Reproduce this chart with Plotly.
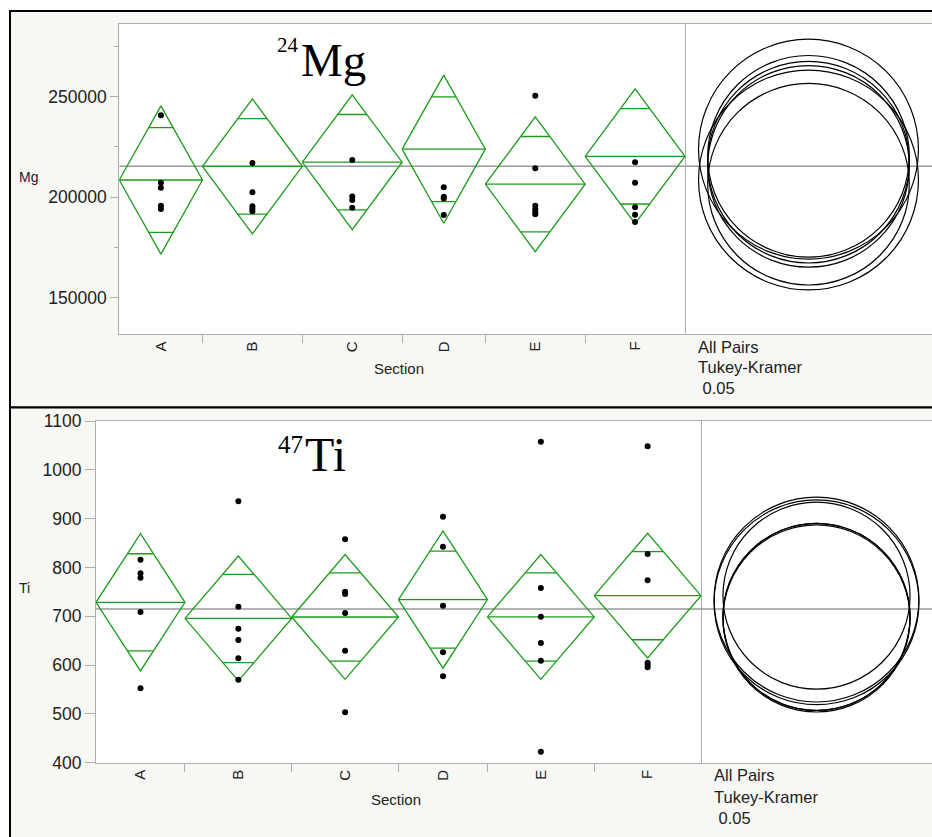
import plotly.graph_objects as go
import math

# ---------------- data ----------------
groups = ["A", "B", "C", "D", "E", "F"]
group_n = [5, 6, 6, 5, 6, 6]

mg_points = [
    [240750, 207200, 204700, 195770, 194100],
    [217060, 202440, 195500, 194300, 193000],
    [218500, 200300, 198600, 194800],
    [204930, 200250, 199300, 191190],
    [250500, 214400, 195800, 194000, 192500, 191500],
    [217360, 207210, 194980, 191290, 187660],
]
mg_means = [208555, 215345, 217415, 223900, 206470, 220340]
mg_ci_half = [36850, 33550, 33550, 36850, 33550, 33550]
mg_circle_r = [54700, 50150, 50150, 54700, 50150, 50150]
mg_grand_mean = 215370
mg_range = [131800, 286170]
mg_ticks = [150000, 200000, 250000]

ti_points = [
    [815.9, 788.0, 779.0, 708.7, 552.4],
    [935.5, 719.6, 674.5, 651.4, 613.8, 570.0],
    [857.7, 750.4, 745.6, 706.7, 629.5, 503.2],
    [904.0, 842.5, 721.7, 626.2, 577.0],
    [1057.7, 757.9, 699.1, 645.2, 609.0, 422.5],
    [1048.2, 827.6, 773.7, 604.9, 600.0, 595.4],
]
ti_means = [728.6, 695.5, 698.5, 734.2, 698.6, 742.2]
ti_ci_half = [140.6, 127.8, 127.8, 140.6, 127.8, 127.8]
ti_circle_r = [209.8, 191.6, 191.6, 209.8, 191.6, 191.6]
ti_grand_mean = 714.9
ti_range = [400, 1100]
ti_ticks = [400, 500, 600, 700, 800, 900, 1000, 1100]

x_title = "Section"
note_lines = ["All Pairs", "Tukey-Kramer", " 0.05"]

# ---------------- layout geometry (pixels) ----------------
W, H = 932, 837
GREEN = "#1c9c1c"
AXIS = "#adadad"
BG = "#f7f7f3"
FONT = "Liberation Sans"


def px(x):
    return x / W


def py(y):
    return 1 - y / H


panels = [
    dict(name="Mg", pts=mg_points, means=mg_means, half=mg_ci_half, circ=mg_circle_r,
         gm=mg_grand_mean, yr=mg_range, ticks=mg_ticks,
         left=119.3, div=685.0, top=24.0, bot=334.3, ticklen=8, minor=25000,
         frame=(11.0, 407.5), ylab=(28, 177.3), sec=(399.0, 368.0),
         notes=(696.0, 346.7, 20.6), sup="24", main="Mg",
         sup_pos=(300.5, 45.0, 21), main_pos=(299.0, 60.0, 47)),
    dict(name="Ti", pts=ti_points, means=ti_means, half=ti_ci_half, circ=ti_circle_r,
         gm=ti_grand_mean, yr=ti_range, ticks=ti_ticks,
         left=96.0, div=701.0, top=421.0, bot=762.7, ticklen=10, minor=None,
         frame=(407.5, 850.0), ylab=(24.5, 588.3), sec=(396.0, 799.3),
         notes=(711.5, 775.0, 21.6), sup="47", main="Ti",
         sup_pos=(304.5, 444.0, 25), main_pos=(303.0, 454.0, 48)),
]

total_n = sum(group_n)
bounds = [0]
for n in group_n:
    bounds.append(bounds[-1] + n)
centers = [(bounds[i] + bounds[i + 1]) / 2 for i in range(len(groups))]

fig = go.Figure()
shapes = []
annotations = []
layout_axes = {}

for k, p in enumerate(panels):
    xa = "x" if k == 0 else "x3"
    xb = "x2" if k == 0 else "x4"
    ya = "y" if k == 0 else "y2"
    xa_key = "xaxis" if k == 0 else "xaxis3"
    xb_key = "xaxis2" if k == 0 else "xaxis4"
    ya_key = "yaxis" if k == 0 else "yaxis2"

    # frame + white plot area
    shapes.append(dict(type="rect", xref="paper", yref="paper", layer="below",
                       x0=px(10), x1=px(950), y0=py(p["frame"][0]), y1=py(p["frame"][1]),
                       fillcolor=BG, line=dict(color="black", width=2)))
    shapes.append(dict(type="rect", xref="paper", yref="paper", layer="below",
                       x0=px(p["left"]), x1=px(W + 5), y0=py(p["top"]), y1=py(p["bot"]),
                       fillcolor="white", line=dict(width=0)))

    # scale for circle panel so that circles are round
    ppu = (p["bot"] - p["top"]) / (p["yr"][1] - p["yr"][0])
    half_w = (W - p["div"]) / 2 / ppu

    # grand mean line
    fig.add_trace(go.Scatter(x=[0, total_n], y=[p["gm"], p["gm"]], xaxis=xa, yaxis=ya,
                             mode="lines", line=dict(color="#999999", width=1.5),
                             hoverinfo="skip"))
    fig.add_trace(go.Scatter(x=[-half_w, half_w], y=[p["gm"], p["gm"]], xaxis=xb, yaxis=ya,
                             mode="lines", line=dict(color="#999999", width=1.5),
                             hoverinfo="skip"))

    # means diamonds
    dx, dy = [], []
    for i in range(len(groups)):
        l, r, c = bounds[i], bounds[i + 1], centers[i]
        m, h = p["means"][i], p["half"][i]
        dx += [l, c, r, c, l, None]
        dy += [m, m + h, m, m - h, m, None]
        dx += [l, r, None]
        dy += [m, m, None]
        s = 1 / math.sqrt(2)
        hw = (r - l) / 2 * (1 - s)
        for sign in (1, -1):
            dx += [c - hw, c + hw, None]
            dy += [m + sign * h * s, m + sign * h * s, None]
    fig.add_trace(go.Scatter(x=dx, y=dy, xaxis=xa, yaxis=ya, mode="lines",
                             line=dict(color=GREEN, width=1.3), hoverinfo="skip"))

    # points
    xs, ys = [], []
    for i, vals in enumerate(p["pts"]):
        xs += [centers[i]] * len(vals)
        ys += vals
    fig.add_trace(go.Scatter(x=xs, y=ys, xaxis=xa, yaxis=ya, mode="markers",
                             marker=dict(color="black", size=6), hoverinfo="skip"))

    # comparison circles
    for i in range(len(groups)):
        m, r = p["means"][i], p["circ"][i]
        shapes.append(dict(type="circle", xref=xb, yref=ya, x0=-r, x1=r, y0=m - r, y1=m + r,
                           line=dict(color="black", width=1.2), layer="above"))

    # axes
    yd = [py(p["bot"]), py(p["top"])]
    layout_axes[xa_key] = dict(
        domain=[px(p["left"]), px(p["div"])], range=[0, total_n], anchor=ya,
        tickmode="array", tickvals=centers, ticktext=groups, tickangle=-90,
        ticks="", showline=True, mirror=True, linecolor=AXIS, linewidth=1.2,
        showgrid=False, zeroline=False, fixedrange=True, automargin=False,
        tickfont=dict(family=FONT, size=15, color="#222"),
        minor=dict(tickmode="array", tickvals=bounds[1:-1], ticks="outside",
                   ticklen=8, tickcolor=AXIS, tickwidth=1.2, showgrid=False),
    )
    layout_axes[xb_key] = dict(
        domain=[px(p["div"]), 1.0], range=[-half_w, half_w], anchor=ya,
        showticklabels=False, ticks="", showline=True, mirror=True, linecolor=AXIS,
        linewidth=1.2, showgrid=False, zeroline=False, fixedrange=True, automargin=False,
    )
    yax = dict(
        domain=yd, range=p["yr"], anchor=xa,
        tickmode="array", tickvals=p["ticks"], ticktext=[str(t) for t in p["ticks"]],
        ticks="outside", ticklen=p["ticklen"], tickcolor=AXIS, tickwidth=1.2,
        showline=True, mirror=True, linecolor=AXIS, linewidth=1.2,
        showgrid=False, zeroline=False, fixedrange=True, automargin=False,
        tickfont=dict(family=FONT, size=17.5, color="#222"),
    )
    if p["minor"]:
        yax["minor"] = dict(dtick=p["minor"], ticks="outside", ticklen=4,
                            tickcolor=AXIS, tickwidth=1.2, showgrid=False)
    layout_axes[ya_key] = yax

    # texts
    annotations.append(dict(text=p["name"], x=px(p["ylab"][0]), y=py(p["ylab"][1]),
                            xref="paper", yref="paper", showarrow=False,
                            xanchor="center", yanchor="middle",
                            font=dict(family=FONT, size=14, color="#222")))
    annotations.append(dict(text=x_title, x=px(p["sec"][0]), y=py(p["sec"][1]),
                            xref="paper", yref="paper", showarrow=False,
                            xanchor="center", yanchor="middle",
                            font=dict(family=FONT, size=15, color="#222")))
    nx, ny, step = p["notes"]
    for j, line in enumerate(note_lines):
        annotations.append(dict(text=line, x=px(nx), y=py(ny + j * step), xref="paper",
                                yref="paper", xanchor="left", yanchor="middle",
                                showarrow=False,
                                font=dict(family=FONT, size=16.5, color="#222")))
    sx, sy, ss = p["sup_pos"]
    annotations.append(dict(text=p["sup"], x=px(sx), y=py(sy), xref="paper", yref="paper",
                            xanchor="right", yanchor="middle", showarrow=False,
                            font=dict(family="Liberation Serif", size=ss, color="black")))
    mx, my, ms = p["main_pos"]
    annotations.append(dict(text=p["main"], x=px(mx), y=py(my), xref="paper", yref="paper",
                            xanchor="left", yanchor="middle", showarrow=False,
                            font=dict(family="Liberation Serif", size=ms, color="black")))

fig.update_layout(
    width=W, height=H, autosize=False,
    margin=dict(l=0, r=0, t=0, b=0, pad=0, autoexpand=False),
    paper_bgcolor="white", plot_bgcolor="white",
    showlegend=False, hovermode=False,
    shapes=shapes, annotations=annotations,
    **layout_axes,
)

fig.write_html("out.html")
